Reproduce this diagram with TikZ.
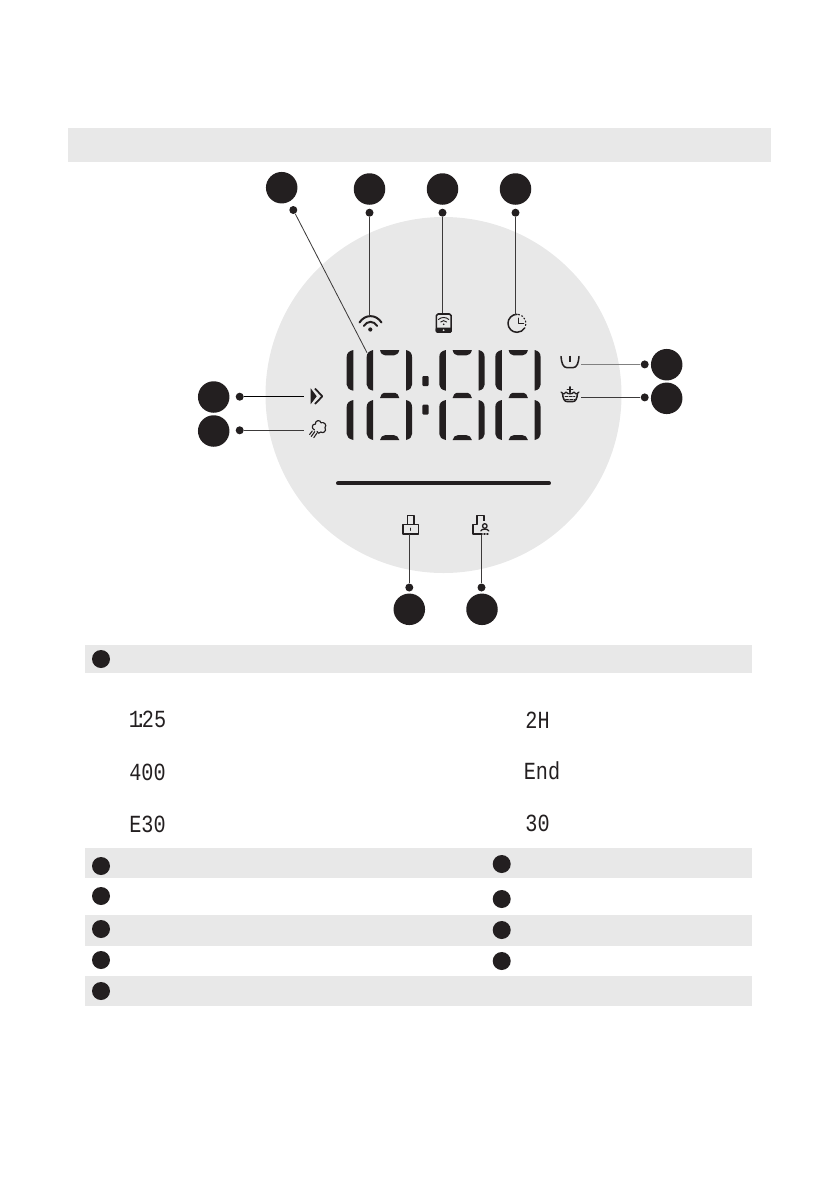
\documentclass[tikz,border=0pt]{standalone}
\usepackage{fontspec}
\usepackage{tikz}
\usetikzlibrary{calc,positioning}
\newfontfamily\lcdfont{Liberation Mono}
\definecolor{panelgrey}{RGB}{232,232,232}
\definecolor{inkblack}{RGB}{35,31,32}
\definecolor{leadergrey}{RGB}{60,58,58}

\begin{document}
\begin{tikzpicture}[x=0.03cm,y=-0.03cm,
                    bigdot/.style={circle,fill=inkblack,inner sep=0pt,minimum size=0.945cm},
                    enddot/.style={circle,fill=inkblack,inner sep=0pt,minimum size=0.24cm},
                    rowdot/.style={circle,fill=inkblack,inner sep=0pt,minimum size=0.54cm},
                    leader/.style={leadergrey,line width=0.7pt},
                    iconline/.style={inkblack,line width=1.3pt,line cap=round,line join=round},
                    lcdtext/.style={inkblack,inner sep=0pt,font=\lcdfont\fontsize{21}{21}\selectfont,xscale=0.82}]
  \useasboundingbox (0,0) rectangle (839,1191);

  % --- grey bands ---------------------------------------------------------
  \fill[panelgrey] (68,128) rectangle (771,162);
  \fill[panelgrey] (85,645) rectangle (752,673);
  \fill[panelgrey] (85,848) rectangle (752,877.5);
  \fill[panelgrey] (85,915) rectangle (752,946);
  \fill[panelgrey] (85,975.5) rectangle (752,1006);

  % --- display disc and bar -----------------------------------------------
  \fill[panelgrey] (443.5,395) circle (178);
  \draw[inkblack,line width=3.4pt,line cap=round] (338,483.3) -- (549,483.3);

  % --- digits, two rows ---------------------------------------------------
  \begin{scope}[inkblack]
    \foreach \ya/\yb in {350/390.7,400/440} {
      \fill (353.3,\ya) .. controls (349,\ya+1) and (346.7,\ya+3) .. (346.7,\ya+7)
          -- (346.7,\yb-6) .. controls (346.7,\yb-3) and (349,\yb-1) .. (353.3,\yb) -- cycle;
      \foreach \dx in {0,72.6,128.6} {
        \begin{scope}[shift={(\dx,0)}]
          \fill (373.2,\ya) .. controls (369,\ya+1) and (366.7,\ya+3) .. (366.7,\ya+7)
              -- (366.7,\yb-6) .. controls (366.7,\yb-3) and (369,\yb-1) .. (373.2,\yb) -- cycle;
          \fill (406,\ya) .. controls (410,\ya+1) and (412,\ya+3) .. (412,\ya+7)
              -- (412,\yb-6) .. controls (412,\yb-3) and (410,\yb-1) .. (406,\yb) -- cycle;
        \end{scope}
      }
    }
    \foreach \dx in {0,72.6,128.6} {
      \begin{scope}[shift={(\dx,0)}]
        % top cap
        \fill (380,350) -- (399.3,350) .. controls (398.5,353.5) and (396.5,355.3) .. (394,355.3)
            -- (385,355.3) .. controls (382.5,355.3) and (380.8,353.5) .. (380,350) -- cycle;
        % shared middle
        \fill (384,392.8) -- (395,392.8) .. controls (397,392.8) and (398.5,395) .. (399.3,398)
            -- (380,398) .. controls (381,395) and (382,392.8) .. (384,392.8) -- cycle;
        % bottom cap
        \fill (385,435.2) -- (394,435.2) .. controls (396.5,435.2) and (398.5,437) .. (399.3,440)
            -- (380,440) .. controls (380.8,437) and (382.5,435.2) .. (385,435.2) -- cycle;
      \end{scope}
    }
    \fill[rounded corners=1] (422.3,376) rectangle (428.7,386);
    \fill[rounded corners=1] (422.3,404.7) rectangle (428.7,414.7);
  \end{scope}

  % --- wifi icon ----------------------------------------------------------
  \draw[iconline,line width=1.7pt] (359.5,322.5) .. controls (365,314) and (376,314) .. (381.5,322.5);
  \draw[iconline,line width=1.7pt] (363.8,326) .. controls (367,320.5) and (374,320.5) .. (377.2,326);
  \fill[inkblack] (370.3,329.5) circle (2.1);
  \coordinate (wifiicon) at (369.5,315.5);

  % --- phone icon ---------------------------------------------------------
  \draw[iconline,rounded corners=1.5] (436.3,314) rectangle (451.2,332);
  \fill[inkblack,rounded corners=1] (435.7,327.5) rectangle (451.8,332.8);
  \fill[panelgrey] (443.7,330.2) circle (1);
  \draw[iconline,line width=0.8pt] (438.5,319.5) .. controls (441,316.8) and (446.2,316.8) .. (448.8,319.5);
  \draw[iconline,line width=0.8pt] (440.7,322) .. controls (442.3,320.2) and (445,320.2) .. (446.6,322);
  \fill[inkblack] (443.7,324.3) circle (0.9);
  \coordinate (phoneicon) at (442.5,313.3);

  % --- clock icon ---------------------------------------------------------
  \draw[iconline] (517,314.3) arc[start angle=270,end angle=30,radius=9];
  \draw[iconline,line width=1pt,dash pattern=on 0.9pt off 2pt] (518.5,314.4) arc[start angle=280,end angle=385,radius=9];
  \draw[iconline] (518.3,318.3) -- (518.3,323.6) -- (523.5,323.6);
  \coordinate (clockicon) at (515.5,314.6);

  % --- basin icons --------------------------------------------------------
  \draw[iconline] (561,356.5) .. controls (561.5,363) and (563,367.5) .. (567,367.7)
      -- (573,367.7) .. controls (577,367.5) and (578.5,363) .. (579,356.5);
  \draw[iconline,line width=1.8pt,line cap=butt] (570,355.7) -- (570,362);
  \coordinate (basinicon) at (581,364.4);
  \draw[iconline,line width=1.1pt] (561,392) .. controls (563.5,394.5) and (565,394.5) .. (566,392)
      .. controls (567.5,394.5) and (572.5,394.5) .. (574,392)
      .. controls (575,394.5) and (576.5,394.5) .. (579,392);
  \draw[iconline] (562.5,393.5) .. controls (563,399) and (564.5,401.5) .. (567,401.5)
      -- (573,401.5) .. controls (575.5,401.5) and (577,399) .. (577.5,393.5);
  \draw[iconline,line width=1pt] (570,386.8) -- (570,392.4) (567.2,389.5) -- (572.8,389.5);
  \draw[iconline,line width=0.8pt,dash pattern=on 2.5pt off 1.2pt] (565,396.3) -- (575,396.3);
  \draw[iconline,line width=0.8pt,dash pattern=on 2.5pt off 1.2pt] (565.5,399) -- (575,399);
  \coordinate (crownicon) at (581,397.4);

  % --- speed and steam icons ----------------------------------------------
  \fill[inkblack] (310.7,388.3) -- (316.7,396.3) -- (310.7,404.2) -- cycle;
  \draw[iconline,line width=1.5pt,line cap=butt] (315,388.5) -- (322.3,396.3) -- (315,404);
  \coordinate (speedicon) at (303.5,396.7);
  \draw[iconline,line width=1pt] (314.5,430) .. controls (311,428.5) and (312,423.5) .. (315.3,424.2)
      .. controls (315,420) and (320.5,419.5) .. (321,422.7)
      .. controls (324,421.5) and (327.3,425) .. (325,427.7)
      .. controls (327,431) and (323,434) .. (320.8,432)
      .. controls (319.8,434) and (317.3,433.5) .. (317,431.5);
  \draw[iconline,line width=0.9pt] (312.3,431) -- (309.6,434.5)
      (314.8,431.6) -- (311.2,436.5) (317,433) -- (313.8,437.6);
  \coordinate (steamicon) at (303.5,430.3);

  % --- lock icons ---------------------------------------------------------
  \draw[iconline,line cap=butt] (403,524.6) rectangle (418.4,534.2);
  \draw[iconline,line cap=butt] (407.3,524.6) -- (407.3,515.3) -- (414.2,515.3) -- (414.2,524.6);
  \draw[iconline,line width=0.8pt] (410.7,528) -- (410.7,530.5);
  \coordinate (lockicon) at (409.3,534.2);
  \draw[iconline,line cap=butt] (482,534.2) -- (473,534.2) -- (473,524.6) -- (476.9,524.6)
      -- (476.9,515.3) -- (483.8,515.3) -- (483.8,521);
  \draw[iconline,line width=1.1pt] (484.8,526) circle (2.3);
  \draw[iconline,line width=1.1pt] (480.8,531) .. controls (481,528.5) and (488.5,528.5) .. (488.8,531);
  \draw[iconline,line width=1pt,dash pattern=on 1pt off 1.5pt] (481,534) -- (489,534);
  \coordinate (childlockicon) at (481.5,535);

  % --- callouts -----------------------------------------------------------
  \node[bigdot] (numdigits) at (281.7,187.7) {};
  \node[enddot] (enddigits) at (293.3,210) {};
  \coordinate (digitsicon) at (367,352.7);
  \draw[leader] (enddigits) -- (digitsicon);

  \foreach \name/\xpos in {wifi/369.5,phone/442.5,clock/515.5} {
    \node[bigdot] (num\name) at (\xpos,189) {};
    \node[enddot] (end\name) at (\xpos,212.7) {};
    \draw[leader] (end\name) -- (\name icon);
  }

  \node[bigdot] (numbasin) at (666.7,364.7) {};
  \node[enddot] (endbasin) at (644.7,364.4) {};
  \draw[leader,line width=1pt,gray] (endbasin) -- (basinicon);
  \node[bigdot] (numcrown) at (666.7,398.3) {};
  \node[enddot] (endcrown) at (644.7,397.4) {};
  \draw[leader] (endcrown) -- (crownicon);

  \node[bigdot] (numspeed) at (213.7,397) {};
  \node[enddot] (endspeed) at (239.7,396.7) {};
  \draw[leader,black,line width=0.9pt] (endspeed) -- (speedicon);
  \node[bigdot] (numsteam) at (213.7,431) {};
  \node[enddot] (endsteam) at (239.7,430.3) {};
  \draw[leader] (endsteam) -- (steamicon);

  \node[bigdot] (numlock) at (409.3,609.3) {};
  \node[enddot] (endlock) at (409.3,587.5) {};
  \draw[leader] (endlock) -- (lockicon);
  \node[bigdot] (numchildlock) at (482,609.3) {};
  \node[enddot] (endchildlock) at (481.5,587.5) {};
  \draw[leader] (endchildlock) -- (childlockicon);

  % --- list bullets -------------------------------------------------------
  \node[rowdot] (rowa) at (101,659) {};
  \foreach \name/\ypos in {b/866,c/896,d/929,e/960,f/991} {
    \node[rowdot] (row\name) at (101,\ypos) {};
  }
  \foreach \name/\ypos in {g/864,h/899,i/930,j/961} {
    \node[rowdot] (row\name) at (501.7,\ypos) {};
  }

  % --- display readouts ---------------------------------------------------
  \node[lcdtext] (readtime) at (147.5,719.5) {1\kern-.3em:\kern-.25em 25};
  \node[lcdtext] (readspin) at (147.5,772.5) {400};
  \node[lcdtext] (readerror) at (147.5,824.5) {E30};
  \node[lcdtext] (readhours) at (537.5,720) {2H};
  \node[lcdtext] (readend) at (542,771) {End};
  \node[lcdtext] (readmins) at (537.5,823.5) {30};
\end{tikzpicture}
\end{document}
